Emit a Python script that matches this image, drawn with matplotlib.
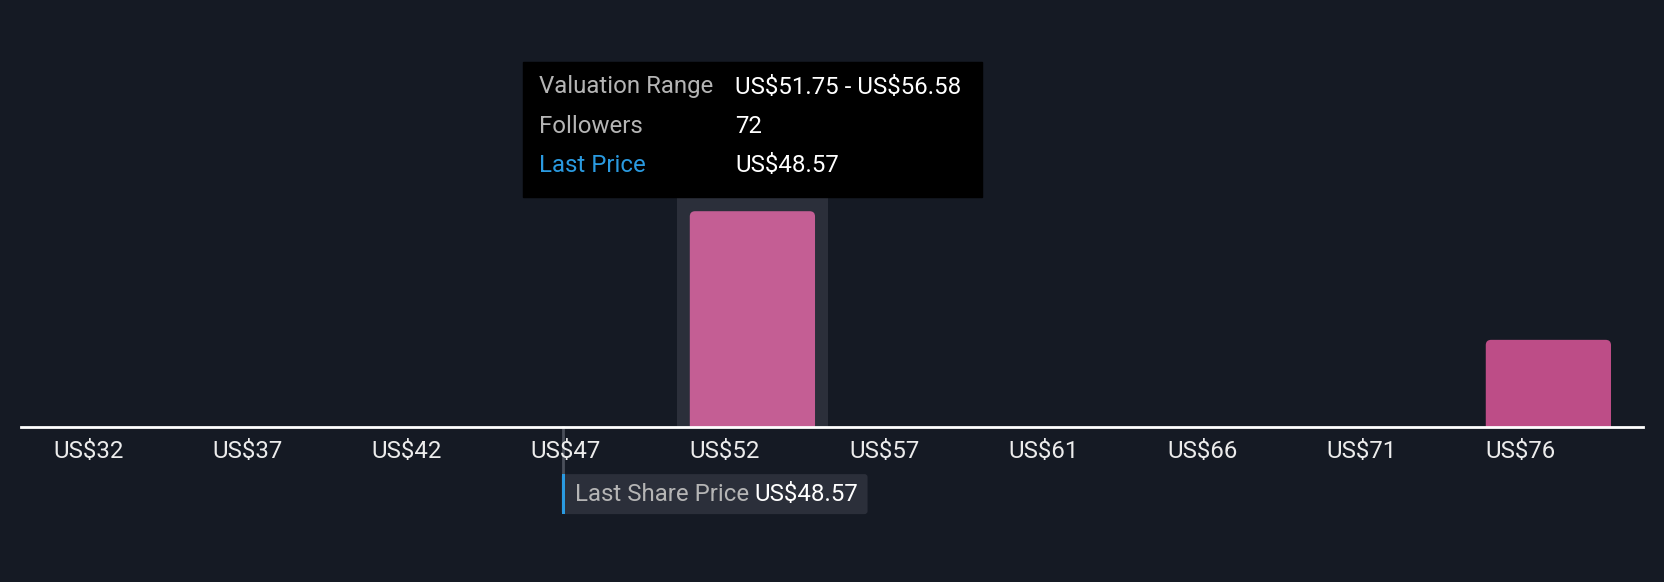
import numpy as np
import matplotlib.pyplot as plt
from matplotlib.patches import FancyBboxPatch, Rectangle

# data
bin_start = 32.43
bin_width = 4.83
followers = [0, 0, 0, 0, 72, 0, 0, 0, 0, 29]
last_price = 48.57
hover_bin = 4

bin_edges = bin_start + bin_width * np.arange(len(followers))
tick_labels = ['US$' + str(int(round(e))) for e in bin_edges]

# colours
bg = '#151a24'
bar_colors = ['#c45e94'] * 9 + ['#bd4d87']
hl_color = '#2b2f3a'
blue = '#2a9ae0'
grey_txt = '#b5b5b5'
fs = 17.3

W, H = 1664, 582
plt.rcParams['font.family'] = ['Roboto', 'DejaVu Sans']
plt.rcParams['text.parse_math'] = False

fig = plt.figure(figsize=(W / 100, H / 100), dpi=100, facecolor=bg)
ax = fig.add_axes([0, 0, 1, 1])
ax.set_facecolor(bg)
ax.axis('off')

# x scale: 32.96 px per dollar, first bar left edge at 53 px
px_per_unit = 32.96
bar_w = bin_width * 118 / 150
bar_left = bin_edges + 0.68
x0 = bar_left[0] - 53 / px_per_unit
ax.set_xlim(x0, x0 + W / px_per_unit)

# y scale: axis at 155 px from bottom, 72 followers = 215 px
axis_px = 155.4
units_per_px = max(followers) / 215.4
ax.set_ylim(-axis_px * units_per_px, (H - axis_px) * units_per_px)

def fx(px):
    return px / W

def fy(py_top):
    return 1 - py_top / H

# highlight behind hovered bar
hl_pad = 12.5 / px_per_unit
ax.add_patch(Rectangle((bar_left[hover_bin] - hl_pad, 0), bar_w + 2 * hl_pad,
                       (H - axis_px - 197.4) * units_per_px, color=hl_color, zorder=1, lw=0))

# bars with rounded tops
r = 5.3 / px_per_unit
aspect = units_per_px * px_per_unit
for i, v in enumerate(followers):
    if v == 0:
        continue
    p = FancyBboxPatch((bar_left[i], -10), bar_w, v + 10,
                       boxstyle='round,pad=0,rounding_size=%f' % r,
                       mutation_aspect=aspect, fc=bar_colors[i], ec='none', zorder=2)
    ax.add_patch(p)
    clip = Rectangle((bar_left[i] - 1, 0), bar_w + 2, v + 20, transform=ax.transData)
    p.set_clip_path(clip)

# baseline
ax.axhline(0, xmin=21 / W, xmax=1643 / W, color='white', lw=2, zorder=3)

# tick labels
for i, lab in enumerate(tick_labels):
    ax.text(bar_left[i], -24.5 * units_per_px, lab, color='#ececec', fontsize=fs,
            ha='left', va='center', zorder=4)

# last price marker
ax.plot([last_price, last_price], [0, -47 * units_per_px], color='#4a4f5a', lw=2, zorder=2)
lx = last_price - 1 / px_per_unit
ax.add_patch(FancyBboxPatch((lx, -87.5 * units_per_px), 306 / px_per_unit, 40 * units_per_px,
                            boxstyle='round,pad=0,rounding_size=%f' % (3 / px_per_unit),
                            mutation_aspect=aspect, fc=hl_color, ec='none', zorder=3))
ax.add_patch(Rectangle((lx, -87.5 * units_per_px), 3.5 / px_per_unit, 40 * units_per_px,
                       color=blue, lw=0, zorder=4))
ax.text(lx + 13 / px_per_unit, -68 * units_per_px, 'Last Share Price', color=grey_txt,
        fontsize=fs, ha='left', va='center', zorder=5)
ax.text(lx + 193 / px_per_unit, -68 * units_per_px, 'US$%.2f' % last_price, color='white',
        fontsize=fs, ha='left', va='center', zorder=5)

# tooltip
fig.patches.append(Rectangle((fx(523), fy(197.4)), fx(982 - 523), (197.4 - 61.5) / H,
                             transform=fig.transFigure, color='black', zorder=10))
lo = bin_edges[hover_bin]
hi = lo + bin_width
rows = [('Valuation Range', 'US$%.2f - US$%.2f' % (lo, hi), grey_txt),
        ('Followers', str(followers[hover_bin]), grey_txt),
        ('Last Price', 'US$%.2f' % last_price, blue)]
for k, (name, val, c) in enumerate(rows):
    yy = fy(87 + 39.2 * k)
    fig.text(fx(539), yy, name, color=c, fontsize=fs, ha='left', va='center', zorder=11)
    fig.text(fx(735), yy, val, color='white', fontsize=fs, ha='left', va='center', zorder=11)

fig.savefig('out.png', dpi=100, facecolor=bg)
